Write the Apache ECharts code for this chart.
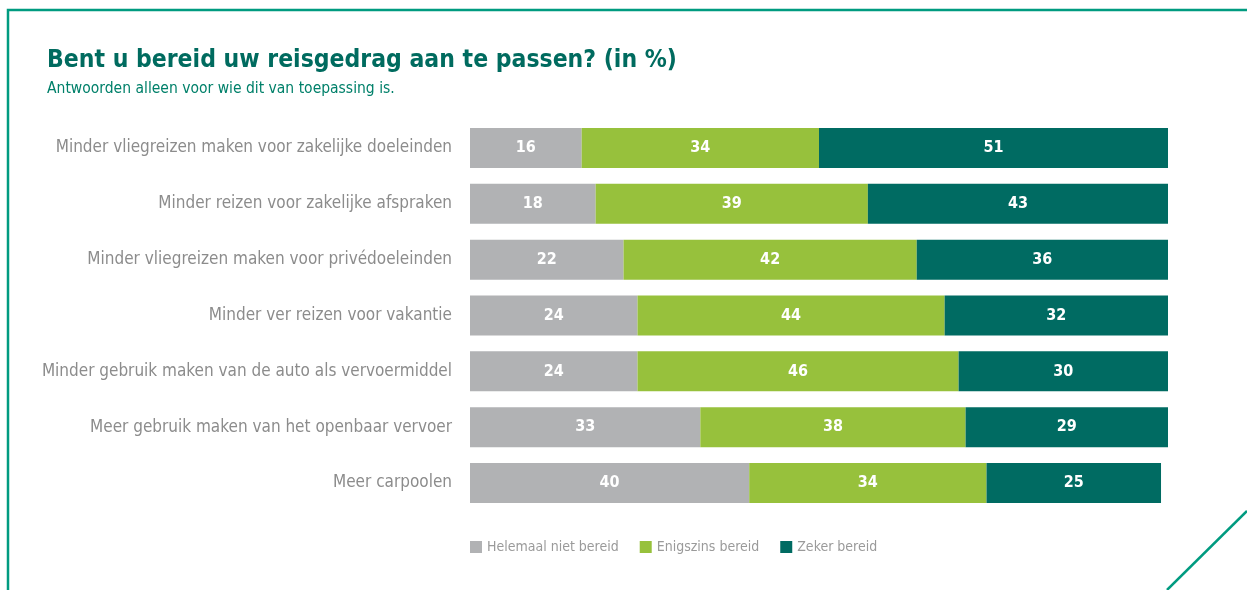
<!DOCTYPE html>
<html>
<head>
<meta charset="utf-8">
<script src="https://cdn.jsdelivr.net/npm/echarts@6/dist/echarts.min.js"></script>
<style>
  html, body { margin: 0; padding: 0; background: #fff; }
  #chart { width: 1247px; height: 590px; }
</style>
</head>
<body>
<div id="chart"></div>
<script>
const categories = [
  'Minder vliegreizen maken voor zakelijke doeleinden',
  'Minder reizen voor zakelijke afspraken',
  'Minder vliegreizen maken voor privédoeleinden',
  'Minder ver reizen voor vakantie',
  'Minder gebruik maken van de auto als vervoermiddel',
  'Meer gebruik maken van het openbaar vervoer',
  'Meer carpoolen'
];
const nietBereid = [16, 18, 22, 24, 24, 33, 40];
const enigszins = [34, 39, 42, 44, 46, 38, 34];
const zeker = [51, 43, 36, 32, 30, 29, 25];

const font = '"Liberation Sans Narrow", "DejaVu Sans Condensed", "Roboto", sans-serif';
const teal = '#009b80';

function bar(name, data, color) {
  return {
    name: name,
    type: 'bar',
    stack: 'total',
    data: data,
    barWidth: 40,
    itemStyle: { color: color },
    label: {
      show: true,
      position: 'inside',
      color: '#fff',
      fontFamily: font,
      fontWeight: 'bold',
      fontSize: 16
    }
  };
}

const chart = echarts.init(document.getElementById('chart'));
chart.setOption({
  animation: false,
  title: {
    text: 'Bent u bereid uw reisgedrag aan te passen? (in %)',
    subtext: 'Antwoorden alleen voor wie dit van toepassing is.',
    left: 42,
    top: 43,
    itemGap: 8,
    textStyle: { fontFamily: font, fontWeight: 'bold', fontSize: 24.5, color: '#006b5f' },
    subtextStyle: { fontFamily: font, fontSize: 15.5, color: '#00806a' }
  },
  legend: {
    bottom: 31,
    left: 465,
    itemWidth: 12,
    itemHeight: 12,
    itemGap: 21,
    icon: 'rect',
    textStyle: { fontFamily: font, fontSize: 14, color: '#9a9a9a' }
  },
  grid: { left: 470, right: 79, top: 120, height: 391, containLabel: false },
  xAxis: { type: 'value', min: 0, max: 100, show: false },
  yAxis: {
    type: 'category',
    data: categories,
    inverse: true,
    axisLine: { show: false },
    axisTick: { show: false },
    axisLabel: { fontFamily: font, fontSize: 17, color: '#8c8c8c', margin: 18 }
  },
  graphic: [
    {
      type: 'polyline',
      shape: { points: [[8, 590], [8, 10], [1247, 10]] },
      style: { stroke: teal, lineWidth: 2.5, fill: null }
    },
    {
      type: 'line',
      shape: { x1: 1167, y1: 590, x2: 1247, y2: 511 },
      style: { stroke: teal, lineWidth: 2.5 }
    }
  ],
  series: [
    bar('Helemaal niet bereid', nietBereid, '#b1b2b4'),
    bar('Enigszins bereid', enigszins, '#97c13c'),
    bar('Zeker bereid', zeker, '#006b62')
  ]
});
</script>
</body>
</html>
